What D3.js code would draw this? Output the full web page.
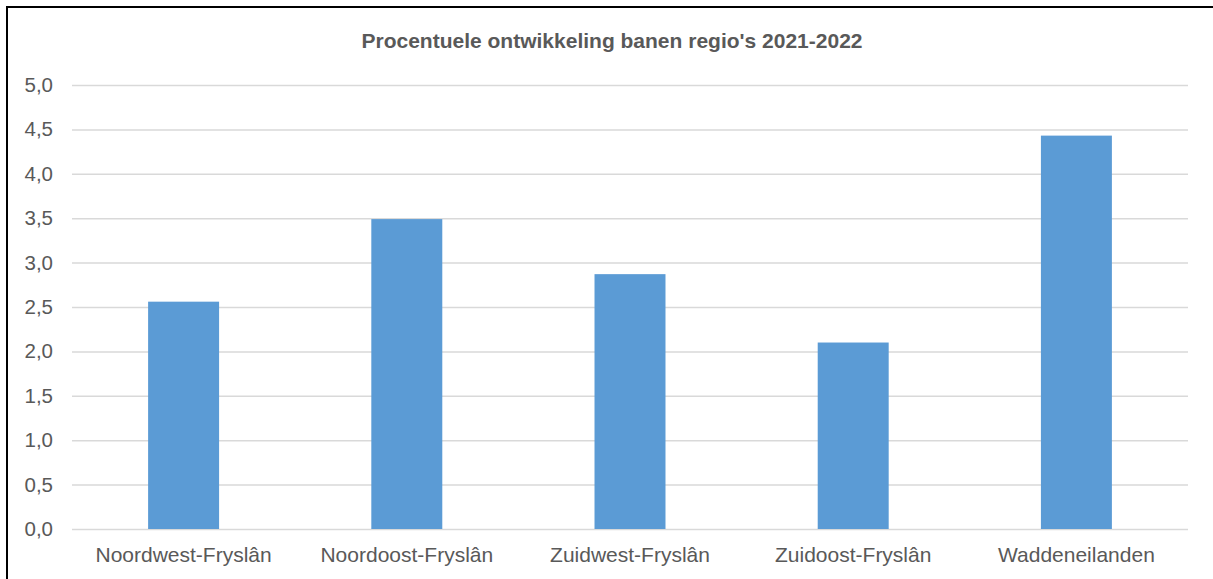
<!DOCTYPE html>
<html>
<head>
<meta charset="utf-8">
<script src="https://cdn.jsdelivr.net/npm/d3@7"></script>
<style>
  body { margin: 0; background: #fff; }
  svg { display: block; font-family: "Liberation Sans", Arial, sans-serif; }
</style>
</head>
<body>
<div id="chart"></div>
<script>
var regions = ["Noordwest-Fryslân", "Noordoost-Fryslân", "Zuidwest-Fryslân", "Zuidoost-Fryslân", "Waddeneilanden"];
var groei = [2.56, 3.49, 2.87, 2.10, 4.43];
var yTicks = [0, 0.5, 1, 1.5, 2, 2.5, 3, 3.5, 4, 4.5, 5];
var title = "Procentuele ontwikkeling banen regio's 2021-2022";

var W = 1213, H = 579;
var margin = { top: 85, right: 25, bottom: 50, left: 72 },
    width = 1188 - margin.left,
    height = 529 - margin.top;

var svg = d3.select("#chart")
    .append("svg")
    .attr("width", W)
    .attr("height", H);

// outer frame (only top/left visible in the picture)
svg.append("rect")
    .attr("x", 7).attr("y", 7)
    .attr("width", W + 20).attr("height", H + 20)
    .attr("fill", "none")
    .attr("stroke", "#000")
    .attr("stroke-width", 2);

svg.append("text")
    .attr("x", 612)
    .attr("y", 48)
    .attr("text-anchor", "middle")
    .attr("font-size", 21)
    .attr("font-weight", "bold")
    .attr("fill", "#595959")
    .text(title);

var g = svg.append("g")
    .attr("transform", "translate(" + margin.left + "," + margin.top + ")");

var x = d3.scaleBand()
    .domain(regions)
    .range([0, width])
    .paddingInner(0.682)
    .paddingOuter(0.341);

var y = d3.scaleLinear()
    .domain([0, 5])
    .range([height, 0]);

// gridlines + y labels
var yAxis = g.append("g")
    .call(d3.axisLeft(y)
        .tickValues(yTicks)
        .tickSize(-width)
        .tickPadding(19)
        .tickFormat(function(d) { return d3.format(".1f")(d).replace(".", ","); }));
yAxis.select(".domain").remove();
yAxis.selectAll(".tick line")
    .attr("stroke", "#d9d9d9")
    .attr("stroke-width", 1.5);
yAxis.selectAll(".tick text")
    .attr("font-size", 20.5)
    .attr("fill", "#595959")
    .attr("font-family", "Liberation Sans, Arial, sans-serif");

g.selectAll("bars")
    .data(groei)
    .enter()
    .append("rect")
    .attr("x", function(d, i) { return x(regions[i]); })
    .attr("y", function(d) { return y(d); })
    .attr("width", x.bandwidth())
    .attr("height", function(d) { return height - y(d); })
    .attr("fill", "#5b9bd5");

var xAxis = g.append("g")
    .attr("transform", "translate(0," + height + ")")
    .call(d3.axisBottom(x).tickSize(0).tickPadding(18));
xAxis.select(".domain").remove();
xAxis.selectAll(".tick text")
    .attr("font-size", 21)
    .attr("fill", "#595959")
    .attr("font-family", "Liberation Sans, Arial, sans-serif");
</script>
</body>
</html>
